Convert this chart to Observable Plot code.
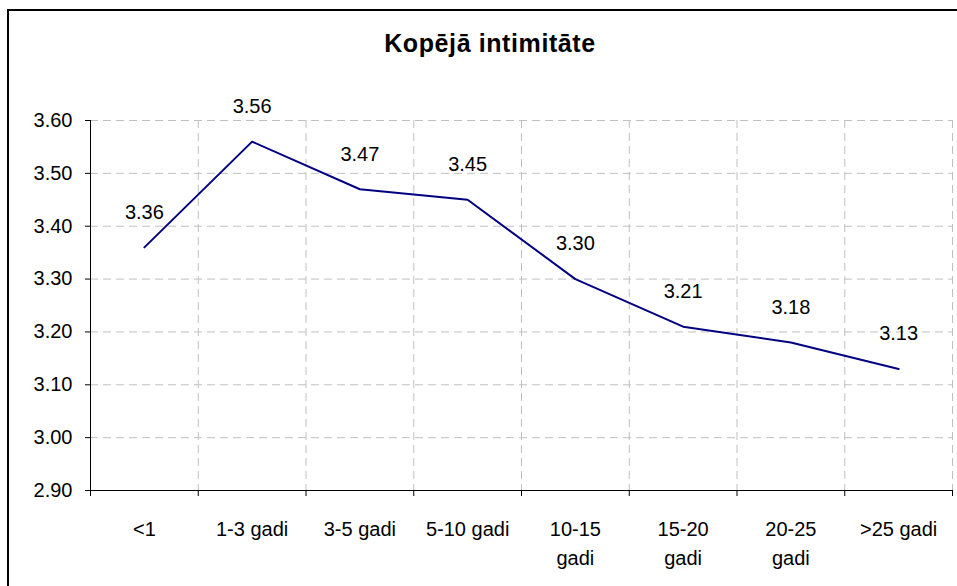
<!DOCTYPE html>
<html>
<head>
<meta charset="utf-8">
<script src="https://cdn.jsdelivr.net/npm/d3@7"></script>
<script src="https://cdn.jsdelivr.net/npm/@observablehq/plot@0.6"></script>
<style>
  body { margin: 0; background: #fff; }
  #frame { position: relative; width: 957px; height: 586px; overflow: hidden; background: #fff; }
  #border { position: absolute; left: 7px; top: 9px; width: 980px; height: 620px; border-left: 2px solid #000; border-top: 2px solid #000; pointer-events: none; }
  #title { position: absolute; left: 0; top: 31px; width: 980px; text-align: center; font: bold 25px "Liberation Sans", Arial, sans-serif; letter-spacing: 0.6px; line-height: 25px; color: #000; }
  #chart { position: absolute; left: 0; top: 0; }
</style>
</head>
<body>
<div id="frame">
  <div id="chart"></div>
  <div id="border"></div>
  <div id="title">Kopējā intimitāte</div>
</div>
<script>
const categories = ["<1", "1-3 gadi", "3-5 gadi", "5-10 gadi", "10-15\ngadi", "15-20\ngadi", "20-25\ngadi", ">25 gadi"];
const values = [3.36, 3.56, 3.47, 3.45, 3.30, 3.21, 3.18, 3.13];
const yTicks = [2.90, 3.00, 3.10, 3.20, 3.30, 3.40, 3.50, 3.60];

const n = categories.length;
const data = categories.map((c, i) => ({i, c, v: values[i]}));
const idx = d3.range(n);
const bounds = d3.range(n + 1).map(k => k - 0.5);

const chart = Plot.plot({
  width: 957,
  height: 586,
  marginLeft: 90,
  marginRight: 5,
  marginTop: 120,
  marginBottom: 96,
  style: {fontFamily: "'Liberation Sans', Arial, sans-serif", fontSize: "20px", color: "#000", background: "transparent"},
  x: {type: "linear", domain: [-0.5, n - 0.5]},
  y: {domain: [2.9, 3.6]},
  marks: [
    Plot.ruleY(yTicks.slice(1), {stroke: "#c0c0c0", strokeWidth: 1, strokeDasharray: "8,5"}),
    Plot.ruleX(bounds.slice(1), {stroke: "#c0c0c0", strokeWidth: 1, strokeDasharray: "8,5"}),
    Plot.axisY({ticks: yTicks, tickFormat: d => d.toFixed(2), tickSize: 5, tickPadding: 13, label: null, stroke: "#000", fontSize: 20}),
    Plot.ruleX([-0.5], {stroke: "#000"}),
    Plot.ruleY([2.9], {stroke: "#000"}),
    Plot.axisX({ticks: bounds, tickFormat: () => "", tickSize: 6, label: null, stroke: "#000"}),
    Plot.axisX({ticks: idx, tickFormat: i => categories[i], tickSize: 0, tickPadding: 25, label: null, lineHeight: 1.45, fontSize: 20}),
    Plot.line(data, {x: "i", y: "v", stroke: "#000080", strokeWidth: 2}),
    Plot.text(data, {x: "i", y: "v", text: d => d.v.toFixed(2), dy: -35, fontSize: 20, fill: "#000"})
  ]
});
document.getElementById("chart").appendChild(chart);
</script>
</body>
</html>
